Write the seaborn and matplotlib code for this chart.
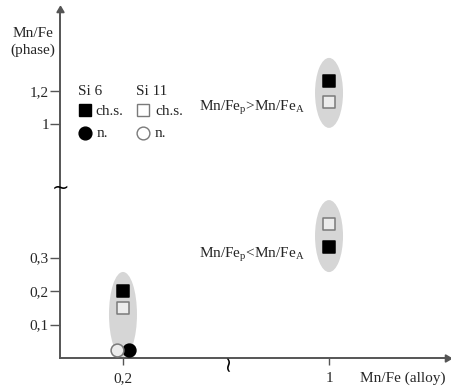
import numpy as np
import pandas as pd
import seaborn as sns
import matplotlib.pyplot as plt
from matplotlib.patches import Ellipse
from matplotlib.transforms import ScaledTranslation, blended_transform_factory

alloy = [0.2, 0.2, 0.18, 0.22, 1.0, 1.0, 1.0, 1.0]
phase = [0.2, 0.15, 0.025, 0.025, 1.26, 1.135, 0.40, 0.33]
si = ['Si 6', 'Si 11', 'Si 11', 'Si 6', 'Si 6', 'Si 11', 'Si 11', 'Si 6']
kind = ['ch.s.', 'ch.s.', 'n.', 'n.', 'ch.s.', 'ch.s.', 'ch.s.', 'ch.s.']

# grey groups behind the points (centre, size in px)
ell_x = [0.2, 1.0, 1.0]
ell_y = [0.13, 1.19, 0.364]
ell_w = [28, 28, 28]
ell_h = [85, 70, 72]

xticks = [0.2, 1.0]
xlabels = ['0,2', '1']
yticks = [0.1, 0.2, 0.3, 1.0, 1.2]
ylabels = ['0,1', '0,2', '0,3', '1', '1,2']

df = pd.DataFrame({'alloy': alloy, 'phase': phase, 'si': si, 'kind': kind})

# broken axes -> piecewise linear scales
XB, XK = 0.53, 0.69
YB, YK = 0.404, 0.493


def fx(v):
    v = np.asarray(v, float)
    return np.where(v <= XB, v, XB + (v - XB) * XK)


def fx_inv(u):
    u = np.asarray(u, float)
    return np.where(u <= XB, u, XB + (u - XB) / XK)


def fy(v):
    v = np.asarray(v, float)
    return np.where(v <= YB, v, YB + (v - YB) * YK)


def fy_inv(u):
    u = np.asarray(u, float)
    return np.where(u <= YB, u, YB + (u - YB) / YK)


sns.set_style('white')
plt.rcParams['font.family'] = ['Liberation Serif', 'DejaVu Sans']
plt.rcParams['mathtext.fontset'] = 'custom'
plt.rcParams['mathtext.rm'] = 'Liberation Serif'

axcol = '#555555'
fig = plt.figure(figsize=(4.52, 3.87), dpi=100)
ax = fig.add_axes([60 / 452, 29 / 387, 387 / 452, 348 / 387])
ax.set_xscale('function', functions=(fx, fx_inv))
ax.set_yscale('function', functions=(fy, fy_inv))
ax.set_xlim(0, 1.543)
ax.set_ylim(0, 1.692)

for x, y, w, h in zip(ell_x, ell_y, ell_w, ell_h):
    tr = fig.dpi_scale_trans + ScaledTranslation(x, y, ax.transData)
    ax.add_patch(Ellipse((0, 0), w / 100, h / 100, transform=tr,
                         facecolor='#d6d6d6', edgecolor='none', zorder=1))

styles = {
    ('Si 6', 'ch.s.'): ('s', 'black', 'black'),
    ('Si 6', 'n.'): ('o', 'black', 'black'),
    ('Si 11', 'ch.s.'): ('s', '#ececec', '#7a7a7a'),
    ('Si 11', 'n.'): ('o', '#ececec', '#7a7a7a'),
}
for (s, k), (m, fc, ec) in styles.items():
    sub = df[(df.si == s) & (df.kind == k)]
    sns.scatterplot(data=sub, x='alloy', y='phase', marker=m, s=85,
                    facecolor=fc, edgecolor=ec, linewidth=1.1,
                    legend=False, ax=ax, zorder=3)
ax.set_xlim(0, 1.543)
ax.set_ylim(0, 1.692)

# axes look
sns.despine(ax=ax)
for sp in ['left', 'bottom']:
    ax.spines[sp].set_color(axcol)
    ax.spines[sp].set_linewidth(1.4)
ax.set_xticks(xticks)
ax.set_xticklabels(xlabels)
ax.set_yticks(yticks)
ax.set_yticklabels(ylabels)
ax.minorticks_off()
ax.tick_params(axis='x', length=5, width=1, color=axcol, pad=5, labelsize=11)
ax.tick_params(axis='y', length=7, width=1, color=axcol, pad=1, labelsize=11)
ax.tick_params(left=True, bottom=True)

ax.plot(0, 1, marker=(3, 0, 0), transform=ax.transAxes, clip_on=False,
        color=axcol, ms=6)
ax.plot(1, 0, marker=(3, 0, -90), transform=ax.transAxes, clip_on=False,
        color=axcol, ms=6)

ax.set_ylabel('Mn/Fe\n(phase)', rotation=0, fontsize=11, ha='center',
              va='center', linespacing=1.4)
ax.yaxis.set_label_coords(-0.07, 0.908)
ax.set_xlabel('Mn/Fe (alloy)', fontsize=11, ha='right', va='center')
ax.xaxis.set_label_coords(0.995, -0.057)

# break marks
ty = blended_transform_factory(ax.transAxes, ax.transData)
tx = blended_transform_factory(ax.transData, ax.transAxes)
ax.text(0, 0.613, '~', transform=ty, ha='center', va='center',
        fontsize=15, family='DejaVu Sans', color='black')
ax.text(0.533, -0.012, '~', transform=tx, ha='center', va='center',
        rotation=90, fontsize=15, family='DejaVu Sans', color='black')

# group annotations
ax.text(0.89, 1.086, r'Mn/Fe$_\mathregular{p}$>Mn/Fe$_\mathregular{A}$',
        ha='right', va='baseline', fontsize=11)
ax.text(0.89, 0.301, r'Mn/Fe$_\mathregular{p}$<Mn/Fe$_\mathregular{A}$',
        ha='right', va='baseline', fontsize=11)

# hand-made legend
ax.text(0.0465, 0.7557, 'Si 6', transform=ax.transAxes, fontsize=11, va='baseline')
ax.text(0.196, 0.7557, 'Si 11', transform=ax.transAxes, fontsize=11, va='baseline')
ax.plot(0.0646, 0.7126, 's', transform=ax.transAxes, ms=9.2, mfc='black', mec='black')
ax.plot(0.0646, 0.6466, 'o', transform=ax.transAxes, ms=9.2, mfc='black', mec='black')
ax.plot(0.2145, 0.7126, 's', transform=ax.transAxes, ms=9.2, mfc='white', mec='#7a7a7a', mew=1)
ax.plot(0.2145, 0.6466, 'o', transform=ax.transAxes, ms=9.2, mfc='white', mec='#7a7a7a', mew=1)
ax.text(0.0904, 0.6983, 'ch.s.', transform=ax.transAxes, fontsize=11, va='baseline')
ax.text(0.0956, 0.635, 'n.', transform=ax.transAxes, fontsize=11, va='baseline')
ax.text(0.2455, 0.6983, 'ch.s.', transform=ax.transAxes, fontsize=11, va='baseline')
ax.text(0.2455, 0.635, 'n.', transform=ax.transAxes, fontsize=11, va='baseline')

fig.savefig('out.png', dpi=100)
